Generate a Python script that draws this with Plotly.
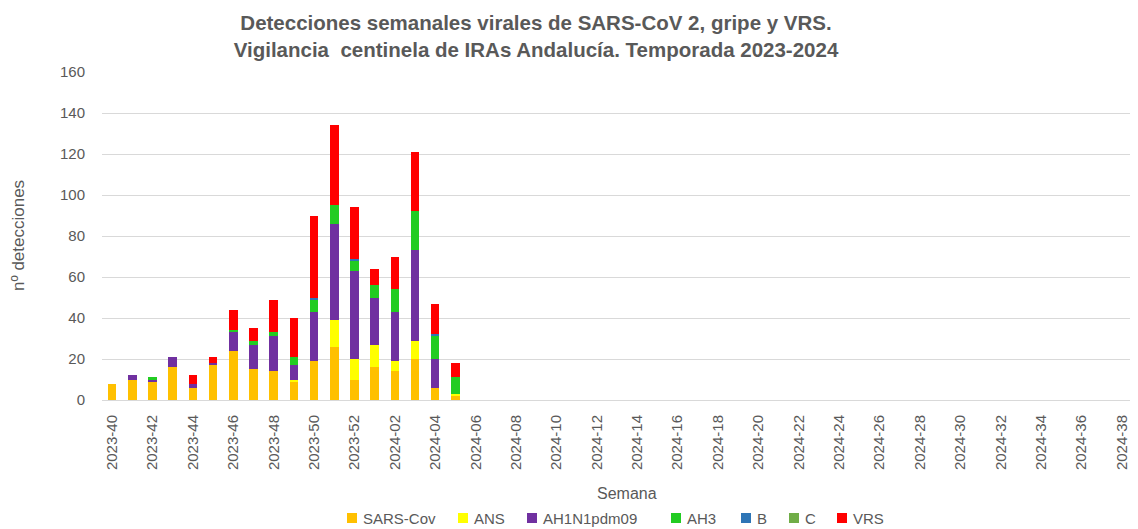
import plotly.graph_objects as go

weeks = [f"2023-{w}" for w in range(40, 53)] + [f"2024-{w:02d}" for w in range(1, 39)]

sars_cov = [8, 10, 9, 16, 6, 17, 24, 15, 14, 9, 19, 26, 10, 16, 14, 20, 6, 2]
ans      = [0, 0, 0, 0, 0, 0, 0, 0, 0, 1, 0, 13, 10, 11, 5, 9, 0, 1]
ah1n1    = [0, 2, 1, 5, 2, 1, 9, 12, 17, 7, 24, 47, 43, 23, 24, 44, 14, 0]
ah3      = [0, 0, 1, 0, 0, 0, 1, 2, 2, 4, 6, 9, 5, 6, 11, 19, 11, 8]
b        = [0, 0, 0, 0, 0, 0, 0, 0, 0, 0, 1, 0, 1, 0, 0, 0, 1, 0]
c        = [0] * 18
vrs      = [0, 0, 0, 0, 4, 3, 10, 6, 16, 19, 40, 39, 25, 8, 16, 29, 15, 7]

series_names = ["SARS-Cov", "ANS", "AH1N1pdm09", "AH3", "B", "C", "VRS"]
series_values = [sars_cov, ans, ah1n1, ah3, b, c, vrs]
series_colors = ["#FFC000", "#FFFF00", "#7030A0", "#22CC22", "#2E75B6", "#70AD47", "#FF0000"]

tick_labels = weeks[::2]

# page has an 8px body margin: figure is drawn 8px in from the top-left
OFF = 8
W, H = 1138 - OFF, 529 - OFF
PL, PR, PT, PB = 102 - OFF, 1132 - OFF, 72 - OFF, 400 - OFF   # plot area in figure px
ML, MR, MT, MB = PL, W - PR, PT, H - PB
pw, ph = PR - PL, PB - PT


def px(x):   # reference x pixel -> paper
    return (x - OFF - PL) / pw


def py(y):   # reference y pixel -> paper
    return (PB - (y - OFF)) / ph


fig = go.Figure()
for name, vals, col in zip(series_names, series_values, series_colors):
    fig.add_trace(go.Bar(
        x=weeks[:len(vals)], y=vals, name=name, showlegend=False,
        marker=dict(color=col, line=dict(width=0)),
    ))

# legend drawn as small squares + labels (Excel-style)
leg_sq_left = [347, 458, 527, 671, 741, 789, 837]
shapes, annots = [], []
for name, col, xl in zip(series_names, series_colors, leg_sq_left):
    shapes.append(dict(type="rect", xref="paper", yref="paper",
                       x0=px(xl), x1=px(xl + 10), y0=py(523), y1=py(513),
                       fillcolor=col, line=dict(width=0)))
    annots.append(dict(text=name, xref="paper", yref="paper", x=px(xl + 14), y=py(518),
                       xanchor="left", yanchor="middle", showarrow=False,
                       font=dict(size=15, color="#595959")))

annots.append(dict(text="Semana", xref="paper", yref="paper", x=px(627), y=py(493),
                   xanchor="center", yanchor="middle", showarrow=False,
                   font=dict(size=16, color="#595959")))
annots.append(dict(text="nº detecciones", xref="paper", yref="paper", x=px(18), y=py(236),
                   xanchor="center", yanchor="middle", textangle=-90, showarrow=False,
                   font=dict(size=17, color="#595959")))

fig.update_layout(
    barmode="stack",
    bargap=0.58,
    width=W, height=H,
    paper_bgcolor="white", plot_bgcolor="white",
    margin=dict(l=ML, r=MR, t=MT, b=MB, autoexpand=False),
    showlegend=False,
    font=dict(family="Liberation Sans, Arial, sans-serif", color="#595959", size=14),
    title=dict(
        text="Detecciones semanales virales de SARS-CoV 2, gripe y VRS.<br>Vigilancia  centinela de IRAs Andalucía. Temporada 2023-2024",
        x=(536 - OFF) / W, xanchor="center", xref="container",
        y=1 - (30 - OFF) / H, yanchor="middle", yref="container",
        font=dict(size=20.5, color="#595959", family="Liberation Sans Narrow, Liberation Sans, Arial", weight="bold"),
    ),
    xaxis=dict(
        type="category", categoryorder="array", categoryarray=weeks,
        range=[-0.5, len(weeks) - 0.5],
        tickmode="array", tickvals=tick_labels, ticktext=tick_labels,
        tickangle=-90, tickfont=dict(size=15, color="#595959"),
        showline=True, linecolor="#D9D9D9", linewidth=1,
        showgrid=False, ticks="", automargin=False, ticklabelstandoff=8,
    ),
    yaxis=dict(
        range=[0, 160], dtick=20,
        showgrid=True, gridcolor="#D9D9D9", gridwidth=1,
        tickfont=dict(size=15, color="#595959"),
        zeroline=False, ticks="", automargin=False, ticklabelstandoff=16,
    ),
    shapes=shapes,
    annotations=annots,
)

fig.write_html("out.html")
